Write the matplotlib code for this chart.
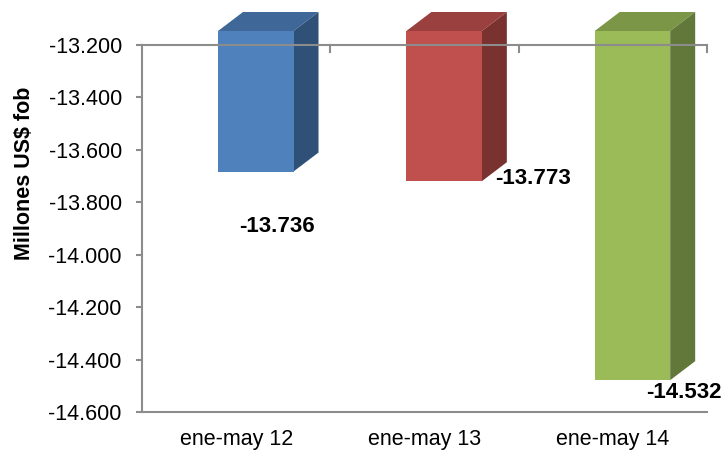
import matplotlib
matplotlib.use("Agg")
import matplotlib.pyplot as plt
from matplotlib.patches import Polygon
from matplotlib.transforms import ScaledTranslation

plt.rcParams['font.family'] = ['Liberation Sans', 'DejaVu Sans']

categories = ["ene-may 12", "ene-may 13", "ene-may 14"]
values = [-13736, -13773, -14532]
value_labels = ["-13.736", "-13.773", "-14.532"]
yticks = [-13200, -13400, -13600, -13800, -14000, -14200, -14400, -14600]
ytick_labels = ["-13.200", "-13.400", "-13.600", "-13.800", "-14.000", "-14.200", "-14.400", "-14.600"]
front_colors = ["#4F81BD", "#C0504D", "#9BBB59"]
top_colors = ["#3F6797", "#9A403E", "#7C9647"]
side_colors = ["#2F5077", "#7A3230", "#62783A"]
label_px = [(277, 226), (533, 179), (684, 392)]

W, H = 727, 450
fig = plt.figure(figsize=(W / 100, H / 100), dpi=100)
L, R, T, B = 142, 707, 45, 412
rect = [L / W, 1 - B / H, (R - L) / W, (B - T) / H]
ax = fig.add_axes(rect)
ax.set_xlim(0, 3)
ax.set_ylim(-14600, -13200)
ax.axis("off")

GRAY = "#8C8C8C"

def px(dx, dy):
    return ScaledTranslation(dx / 100, -dy / 100, fig.dpi_scale_trans)

bar_w = 75.5 / ((R - L) / 3)
bar_shift = 19.6 / ((R - L) / 3)
DX, FRONT, BACK = 25, -14, -33
for i, v in enumerate(values):
    x0 = i + 0.5 + bar_shift - bar_w / 2
    x1 = x0 + bar_w
    top = -13200
    ftr = ax.transData + px(0, FRONT)
    btr = ax.transData + px(DX, BACK)
    f = lambda x, y: ftr.transform((x, y))
    b = lambda x, y: btr.transform((x, y))
    kw = dict(transform=None, clip_on=False, zorder=3, lw=0)
    fig.add_artist(Polygon([f(x0, top), f(x1, top), b(x1, top), b(x0, top)], closed=True, fc=top_colors[i], **kw))
    fig.add_artist(Polygon([f(x1, top), f(x1, v), b(x1, v), b(x1, top)], closed=True, fc=side_colors[i], **kw))
    fig.add_artist(Polygon([f(x0, top), f(x1, top), f(x1, v), f(x0, v)], closed=True, fc=front_colors[i],
                           transform=None, clip_on=False, zorder=4, lw=0))

overlay = fig.add_axes(rect, zorder=10)
overlay.set_xlim(0, 3)
overlay.set_ylim(-14600, -13200)
overlay.patch.set_visible(False)
overlay.spines["right"].set_visible(False)
for s in ["left", "top", "bottom"]:
    overlay.spines[s].set_color(GRAY)
    overlay.spines[s].set_linewidth(1.5)
overlay.set_yticks(yticks)
overlay.set_yticklabels(ytick_labels, fontsize=15.5, color="black")
overlay.tick_params(axis="y", length=4.5, width=1.5, color=GRAY, pad=10)
overlay.set_xticks([0.5, 1.5, 2.5])
overlay.set_xticklabels(categories, fontsize=15.5, color="black")
overlay.tick_params(axis="x", length=0, pad=12)
for xt in [1, 2, 3]:
    overlay.plot([xt, xt], [-13200, -13200 - 25], color=GRAY, lw=1.5, clip_on=False)
overlay.set_xlim(0, 3)
overlay.set_ylim(-14600, -13200)

fig.text(25 / W, 1 - 173 / H, "Millones US$ fob", fontsize=15.5, fontweight="bold", rotation=90,
         ha="center", va="center")

for (lx, ly), t in zip(label_px, value_labels):
    fig.text(lx / W, 1 - ly / H, t, fontsize=16, fontweight="bold", ha="center", va="center", zorder=20)

fig.savefig("out.png", dpi=100)
